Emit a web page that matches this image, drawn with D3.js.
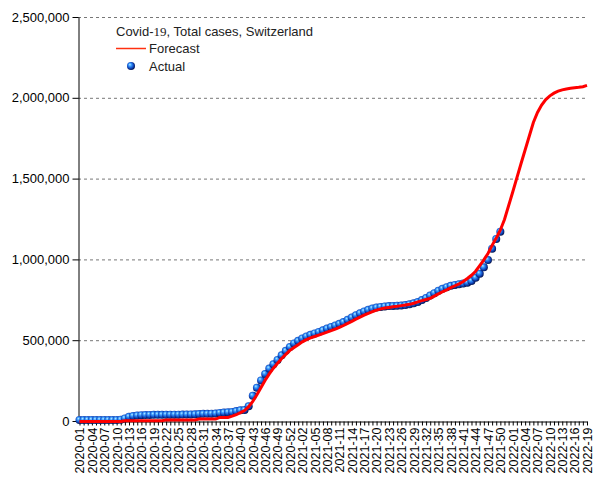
<!DOCTYPE html>
<html><head><meta charset="utf-8">
<script src="https://cdn.jsdelivr.net/npm/d3@7"></script>
<style>
body{margin:0;background:#fff;}
svg{display:block;font-family:"Liberation Sans",Arial,sans-serif;}
</style></head>
<body><svg id="c" width="605" height="480"></svg>
<script>
// ISO week categories 2020-01 .. 2022-19
const weekYears = [[2020,53],[2021,52],[2022,19]];
const weeks = [];
weekYears.forEach(([y,n])=>{for(let w=1;w<=n;w++) weeks.push(y+"-"+String(w).padStart(2,"0"));});

const yTicks = [0,500000,1000000,1500000,2000000,2500000];

// Actual cumulative cases, weeks 2020-01 .. 2021-50
const actual = [
 0,0,0,0,0,0,0,0,0,300,
 2000,10000,20000,25000,28000,30000,31000,31500,32000,32000,
 32000,32500,32500,33000,33000,33500,34000,34500,35000,37000,
 38000,38000,39000,40000,44000,46000,48000,50000,55000,60000,
 62000,85000,150000,200000,245000,285000,318000,345000,372000,400000,
 428000,452000,474000,490000,505000,517000,527000,536000,545000,555000,
 566000,576000,585000,595000,606000,620000,634000,648000,660000,672000,
 682000,690000,696000,700000,703000,705000,706000,707000,708000,711000,
 716000,722000,730000,742000,755000,770000,785000,800000,812000,822000,
 830000,836000,840000,844000,850000,860000,880000,905000,945000,990000,
 1060000,1120000,1165000
];

// Forecast, weeks 2020-01 .. 2022-19
const forecast = [
 0,0,0,0,0,0,0,0,0,0,
 0,5000,5000,5000,5000,5000,5000,5000,5000,5000,
 5000,10000,10000,10000,10000,10000,10000,10000,10000,15000,
 15000,15000,15000,15000,25000,25000,25000,33000,42000,55000,
 68000,92000,125000,165000,210000,255000,295000,330000,360000,390000,
 415000,440000,458000,475000,493000,506000,517000,526000,535000,544000,
 553000,562000,572000,582000,594000,607000,620000,633000,646000,658000,
 669000,680000,689000,697000,702000,706000,710000,713000,717000,721000,
 725000,732000,740000,748000,755000,762000,776000,790000,803000,815000,
 828000,840000,852000,866000,885000,905000,930000,965000,1000000,1040000,
 1090000,1135000,1185000,1250000,1335000,1420000,1508000,1595000,1680000,1765000,
 1850000,1912000,1958000,1992000,2015000,2032000,2044000,2052000,2058000,2062000,
 2065000,2068000,2072000,2080000
];

const svg = d3.select("#c");
const x = d3.scalePoint().domain(weeks).range([79.5, 587]);
const y = d3.scaleLinear().domain([0,2500000]).range([421,17]);
const left = 78, right = 587;

// gradient for spheres
const defs = svg.append("defs");
const g = defs.append("radialGradient").attr("id","ball").attr("cx","0.45").attr("cy","0.45").attr("r","0.6").attr("fx","0.35").attr("fy","0.3");
g.append("stop").attr("offset","0%").attr("stop-color","#b8ecff");
g.append("stop").attr("offset","30%").attr("stop-color","#3a9cff");
g.append("stop").attr("offset","65%").attr("stop-color","#1048c0");
g.append("stop").attr("offset","100%").attr("stop-color","#000838");

// gridlines
svg.append("g").selectAll("line").data(yTicks.filter(d=>d>0)).join("line")
  .attr("x1",left).attr("x2",right).attr("y1",d=>y(d)+0.5).attr("y2",d=>y(d)+0.5)
  .attr("stroke","#777").attr("stroke-width",1).attr("stroke-dasharray","3,3");

// y axis
const yAxis = svg.append("g").attr("transform",`translate(${left+0.5},0)`)
  .call(d3.axisLeft(y).tickValues(yTicks).tickFormat(d3.format(",")).tickSize(6).tickSizeOuter(0));
yAxis.select(".domain").attr("stroke","#000");
yAxis.selectAll("text").attr("font-size",13).attr("fill","#000").attr("x",-9).attr("font-family","'Liberation Sans',Arial,sans-serif");

// x axis
const xAxis = svg.append("g").attr("transform",`translate(0,${421.5})`)
  .call(d3.axisBottom(x).tickSize(4).tickSizeOuter(0).tickFormat((d,i)=> i%3===0 ? d : ""));
xAxis.select(".domain").attr("d",`M${left},0.5H${right+0.5}`).attr("stroke","#000");
xAxis.selectAll("text").attr("font-size",12.5).attr("fill","#000")
  .attr("font-family","'Liberation Sans',Arial,sans-serif")
  .attr("transform","rotate(-90)").attr("text-anchor","end").attr("x",-6).attr("y",0).attr("dy","0.35em");

// actual points
svg.append("g").selectAll("circle").data(actual).join("circle")
  .attr("cx",(d,i)=>x(weeks[i])).attr("cy",d=>y(d)-1)
  .attr("r",4).attr("fill","url(#ball)");

// forecast line
svg.append("path").datum(forecast)
  .attr("d", d3.line().x((d,i)=>x(weeks[i])).y(d=>y(d)+0.5))
  .attr("fill","none").attr("stroke","#ff0000").attr("stroke-width",3);

// legend
const lg = svg.append("g").attr("font-size",13).attr("fill","#222");
const t = lg.append("text").attr("x",116).attr("y",36).attr("fill","#222");
t.append("tspan").text("Covid-");
t.append("tspan").attr("font-family","'Liberation Serif','Times New Roman',serif").text("19");
t.append("tspan").text(", Total cases, Switzerland");
lg.append("line").attr("x1",116).attr("x2",146).attr("y1",48.5).attr("y2",48.5).attr("stroke","#ff3010").attr("stroke-width",1.5);
lg.append("text").attr("x",149).attr("y",53).text("Forecast");
lg.append("circle").attr("cx",131).attr("cy",66).attr("r",4).attr("fill","url(#ball)");
lg.append("text").attr("x",149).attr("y",71).text("Actual");
</script></body></html>
